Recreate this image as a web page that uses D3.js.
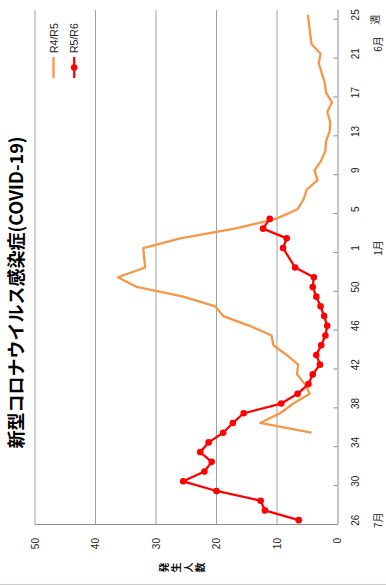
<!DOCTYPE html>
<html>
<head>
<meta charset="utf-8">
<script src="https://cdn.jsdelivr.net/npm/d3@7"></script>
<style>
  html, body { margin: 0; padding: 0; background: #fff; }
  svg { display: block; }
</style>
</head>
<body>
<script>
// Surveillance weeks, July (wk 26) through the following June (wk 25)
const weeks = [26, 27, 28, 29, 30, 31, 32, 33, 34, 35, 36, 37, 38, 39, 40, 41, 42, 43, 44, 45,
               46, 47, 48, 49, 50, 51, 52, 53, 1, 2, 3, 4, 5, 6, 7, 8, 9, 10, 11, 12,
               13, 14, 15, 16, 17, 18, 19, 20, 21, 22, 23, 24, 25];

// Reported cases per sentinel site
const r4r5 = [null, null, null, null, null, null, null, null, null, 4.3,
              12.8, 9.5, 7.3, 4.6, 5.4, 6.7, 6.5, 8.4, 10.6, 10.9,
              14.5, 18.9, 20.2, 25.5, 33.2, 36.3, 31.8, null, 32.1, 26.0,
              17.0, 10.2, 6.6, 5.6, 5.1, 3.3, 3.8, 2.7, 2.0, 1.9,
              1.3, 1.2, 1.7, 0.9, 1.9, 2.1, 2.6, 3.1, 2.8, 4.3,
              4.5, 4.7, 4.9];
const r5r6 = [6.4, 12.0, 12.7, 20.0, 25.5, 22.0, 20.8, 22.7, 21.3, 18.9,
              17.3, 15.5, 9.3, 6.6, 4.8, 4.1, 2.9, 3.5, 2.7, 2.0,
              1.7, 2.2, 2.8, 3.5, 4.1, 3.9, 7.0, null, 9.0, 8.4,
              12.3, 11.2, null, null, null, null, null, null, null, null,
              null, null, null, null, null, null, null, null, null, null,
              null, null, null];

const valueTicks = [0, 10, 20, 30, 40, 50];
const monthLabels = ["7月", "1月", "6月"];
const monthWeeks = [26, 1, 22];
const seriesNames = ["R4/R5", "R5/R6"];
const seriesColors = ["#f79646", "#ff0000"];
const titleText = "新型コロナウイルス感染症(COVID-19)";
const yTitle = "発生人数";
const xUnit = "週";

// Page is portrait; the chart itself is laid out landscape and turned a quarter turn
const W = 386, H = 585;
const svg = d3.select("body").append("svg").attr("width", W).attr("height", H);
const g = svg.append("g").attr("transform", `translate(0,${H}) rotate(-90)`);

const plot = { left: 60, right: 575, top: 35, bottom: 337.5 };
const labelFont = "'Liberation Sans', Arial, sans-serif";
const cjkFont = "'Noto Sans CJK JP', 'Noto Sans', sans-serif";

const x = d3.scaleBand().domain(d3.range(weeks.length)).range([plot.left, plot.right]);
const xc = i => x(i) + x.bandwidth() / 2;
const y = d3.scaleLinear().domain([0, 50]).range([plot.bottom, plot.top]);

// outer border of the chart area
g.append("line")
  .attr("x1", 0.6).attr("x2", 0.6).attr("y1", 0).attr("y2", W)
  .attr("stroke", "#c8c8c8").attr("stroke-width", 1);

// horizontal gridlines
g.append("g").selectAll("line")
  .data(valueTicks.filter(v => v > 0))
  .join("line")
  .attr("x1", plot.left).attr("x2", plot.right)
  .attr("y1", d => y(d)).attr("y2", d => y(d))
  .attr("stroke", "#a0a0a0").attr("stroke-width", 1);

// value axis
const yAxis = g.append("g")
  .attr("transform", `translate(${plot.left},0)`)
  .call(d3.axisLeft(y).tickValues(valueTicks).tickSize(0).tickSizeOuter(0).tickPadding(13));
yAxis.select(".domain").attr("stroke", "#8c8c8c");
yAxis.selectAll("text").attr("font-family", labelFont).attr("font-size", 10).attr("fill", "#222");

// category axis: labels centred on every 4th week
const labelIdx = d3.range(0, weeks.length, 4);
const xAxis = g.append("g")
  .attr("transform", `translate(0,${plot.bottom})`)
  .call(d3.axisBottom(x).tickValues(labelIdx).tickFormat(i => weeks[i])
        .tickSize(0).tickSizeOuter(0).tickPadding(14));
xAxis.select(".domain").attr("stroke", "#8c8c8c");
xAxis.selectAll("text").attr("font-family", labelFont).attr("font-size", 10).attr("fill", "#222");

// tick marks on category boundaries, pointing into the plot
const bound = d3.scaleLinear().domain([0, weeks.length]).range([plot.left, plot.right]);
const tickAxis = g.append("g")
  .attr("transform", `translate(0,${plot.bottom})`)
  .call(d3.axisBottom(bound).tickValues(labelIdx).tickFormat("").tickSizeInner(-4).tickSizeOuter(0));
tickAxis.select(".domain").remove();
tickAxis.selectAll("line").attr("stroke", "#8c8c8c");

// month labels and week unit
g.append("g").selectAll("text")
  .data(monthLabels)
  .join("text")
  .attr("x", (d, k) => xc(weeks.indexOf(monthWeeks[k])))
  .attr("y", 382)
  .attr("text-anchor", "middle")
  .attr("font-family", cjkFont).attr("font-size", 10).attr("fill", "#222")
  .text(d => d);
g.append("text")
  .attr("x", xc(weeks.length - 1) - 5).attr("y", 379)
  .attr("text-anchor", "middle")
  .attr("font-family", cjkFont).attr("font-size", 10).attr("fill", "#222")
  .text(xUnit);

// vertical axis title, one character per row
g.append("g").selectAll("text")
  .data(Array.from(yTitle))
  .join("text")
  .attr("x", 17.5)
  .attr("y", (d, k) => 158 + 11.75 * (k + 0.5))
  .attr("text-anchor", "middle").attr("dominant-baseline", "central")
  .attr("font-family", cjkFont).attr("font-weight", "bold").attr("font-size", 10).attr("fill", "#111")
  .text(d => d);

// chart title
g.append("text")
  .attr("x", 585 / 2).attr("y", 23)
  .attr("text-anchor", "middle")
  .attr("font-family", cjkFont).attr("font-weight", "bold").attr("font-size", 18).attr("fill", "#000")
  .text(titleText);

// series lines
const line = d3.line().x(d => xc(d.i)).y(d => y(d.v));
const toPts = arr => arr.map((v, i) => ({ i, v })).filter(d => d.v != null);
const series = [r4r5, r5r6];
series.forEach((arr, s) => {
  g.append("path")
    .datum(toPts(arr))
    .attr("d", line)
    .attr("fill", "none")
    .attr("stroke", seriesColors[s])
    .attr("stroke-width", 2.3)
    .attr("stroke-linejoin", "round");
});

// markers on the current season
g.append("g").selectAll("circle")
  .data(toPts(r5r6))
  .join("circle")
  .attr("cx", d => xc(d.i)).attr("cy", d => y(d.v))
  .attr("r", 3.3)
  .attr("fill", seriesColors[1]);

// legend
const legend = g.append("g");
seriesNames.forEach((name, s) => {
  const ly = 53.5 + s * 20.7;
  legend.append("line")
    .attr("x1", 507).attr("x2", 528).attr("y1", ly).attr("y2", ly)
    .attr("stroke", seriesColors[s]).attr("stroke-width", 2.3);
  if (s === 1) {
    legend.append("circle").attr("cx", 517.5).attr("cy", ly).attr("r", 3.3).attr("fill", seriesColors[s]);
  }
  legend.append("text")
    .attr("x", 532).attr("y", ly + 4)
    .attr("font-family", labelFont).attr("font-size", 10.5).attr("fill", "#222")
    .text(name);
});
</script>
</body>
</html>
